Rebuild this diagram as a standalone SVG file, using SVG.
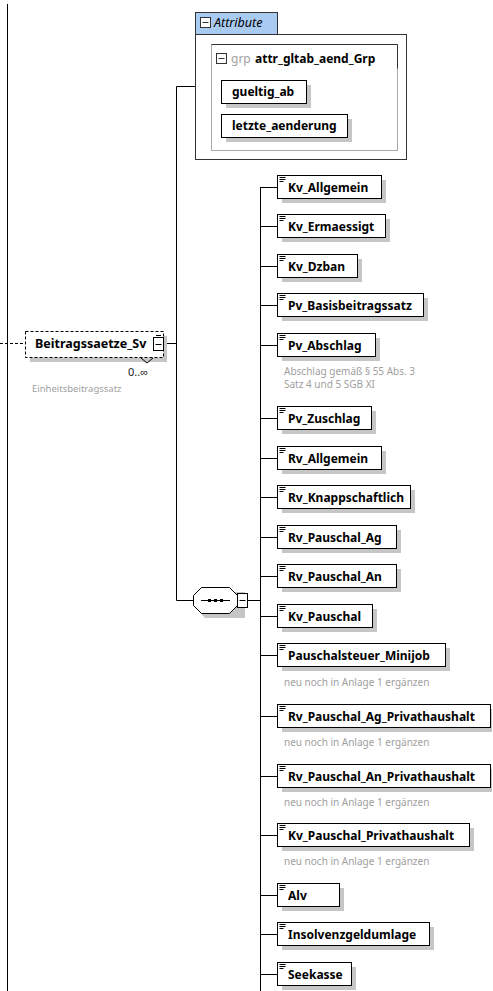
<svg xmlns="http://www.w3.org/2000/svg" width="493" height="991" viewBox="0 0 493 991">
<style>
.el{fill:#fff;stroke:#000;stroke-width:1}
.sh{fill:#c6c6c6}
.nm{font-family:"Noto Sans",sans-serif;font-weight:bold;font-size:12px;fill:#000}
.an{font-family:"Noto Sans",sans-serif;font-size:10px;fill:#a0a0a0}
.ln{stroke:#000;stroke-width:1;fill:none}
.ic{stroke:#000;stroke-width:1}
</style>
<defs>
<g id="doc"><path d="M0.5 0.5h6M0.5 2.5h6M0.5 4.5h4" stroke="#000" stroke-width="1"/></g>
</defs>
<rect width="493" height="991" fill="#fff"/>
<g id="connectors">
<line class="ln" x1="7.5" y1="4" x2="7.5" y2="991"/>
<line class="ln" x1="0" y1="343.5" x2="25" y2="343.5" stroke-dasharray="3,2"/>
<line class="ln" x1="164" y1="343.5" x2="177" y2="343.5"/>
<polyline class="ln" points="195,86.5 176.5,86.5 176.5,600.5 193,600.5"/>
<line class="ln" x1="248" y1="600.5" x2="260" y2="600.5"/>
<line class="ln" x1="260.5" y1="187" x2="260.5" y2="991"/>
<path class="ln" d="M260 187.5h17M260 226.5h17M260 266.5h17M260 305.5h17M260 345.5h17M260 418.5h17M260 458.5h17M260 497.5h17M260 537.5h17M260 576.5h17M260 616.5h17M260 655.5h17M260 716.5h17M260 776.5h17M260 835.5h17M260 895.5h17M260 934.5h17M260 974.5h17"/>
</g>
<g id="attributes">
<rect x="195.5" y="34.5" width="211" height="125" fill="#fff" stroke="#333"/>
<rect x="195.5" y="12.5" width="82" height="22" fill="#a9cbf2" stroke="#333"/>
<rect x="200.5" y="17.5" width="10" height="10" fill="#fff" stroke="#333"/>
<line x1="202.5" y1="22.5" x2="208.5" y2="22.5" stroke="#333"/>
<text x="214" y="27" font-family="Noto Sans,sans-serif" font-style="italic" font-size="12.5" fill="#000">Attribute</text>
<g id="grp">
<rect x="211.5" y="44.5" width="186" height="106" fill="#fff" stroke="#aaa"/>
<path d="M211.5 44.5h186v24" stroke="#333" fill="none"/>
<rect x="216.5" y="53.5" width="10" height="10" fill="#fff" stroke="#333"/>
<line x1="218.5" y1="58.5" x2="224.5" y2="58.5" stroke="#333"/>
<text x="231" y="63" font-family="Noto Sans,sans-serif" font-size="12" fill="#a0a0a0">grp</text>
<text x="255" y="63" class="nm">attr_gltab_aend_Grp</text>
</g>
<g id="gueltig_ab">
<rect class="sh" x="226" y="85" width="85" height="23"/>
<rect class="el" x="221.5" y="80.5" width="85" height="23"/>
<text x="232" y="96" class="nm">gueltig_ab</text>
</g>
<g id="letzte_aenderung">
<rect class="sh" x="226" y="119" width="126" height="23"/>
<rect class="el" x="221.5" y="114.5" width="126" height="23"/>
<text x="232" y="130" class="nm">letzte_aenderung</text>
</g>
</g>
<g id="Beitragssaetze_Sv">
<rect class="sh" x="30" y="336" width="137" height="26"/>
<rect x="25.5" y="331.5" width="138" height="26" fill="#fff" stroke="#000" stroke-dasharray="3,2"/>
<text x="35" y="348" class="nm" style="font-size:12.5px">Beitragssaetze_Sv</text>
<rect x="153.5" y="337.5" width="10" height="13" fill="#fff" stroke="#000"/>
<line x1="156" y1="335.5" x2="161" y2="335.5" stroke="#000"/>
<line x1="155.5" y1="344.5" x2="161.5" y2="344.5" stroke="#000"/>
<polyline points="141,358 147,363 153,358" fill="none" stroke="#000"/>
<text x="128" y="376" font-family="Noto Sans,sans-serif" font-size="11" fill="#222">0..∞</text>
<text x="32" y="392" font-family="Noto Sans,sans-serif" font-size="9.5" fill="#a0a0a0">Einheitsbeitragssatz</text>
</g>
<g id="sequence">
<polygon points="205,592 245,592 245,618 205,618 198,610 198,600" class="sh"/>
<polygon points="201.5,587.5 229.5,587.5 237.5,595.5 237.5,605.5 229.5,613.5 201.5,613.5 193.5,605.5 193.5,595.5" fill="#fff" stroke="#000"/>
<line x1="201" y1="600.5" x2="230" y2="600.5" stroke="#000"/>
<rect x="208" y="599" width="3" height="3" fill="#000"/>
<rect x="214" y="599" width="3" height="3" fill="#000"/>
<rect x="220" y="599" width="3" height="3" fill="#000"/>
<rect x="237.5" y="593.5" width="10" height="14" fill="#fff" stroke="#000"/>
<line x1="239.5" y1="600.5" x2="245.5" y2="600.5" stroke="#000"/>
</g>
<g id="Kv_Allgemein"><rect class="sh" x="282" y="180" width="104" height="23"/><rect class="el" x="277.5" y="175.5" width="104" height="23"/><use href="#doc" x="279" y="177"/><text x="288" y="192" class="nm">Kv_Allgemein</text></g>
<g id="Kv_Ermaessigt"><rect class="sh" x="282" y="219" width="108" height="23"/><rect class="el" x="277.5" y="214.5" width="108" height="23"/><use href="#doc" x="279" y="216"/><text x="288" y="231" class="nm">Kv_Ermaessigt</text></g>
<g id="Kv_Dzban"><rect class="sh" x="282" y="259" width="80" height="23"/><rect class="el" x="277.5" y="254.5" width="80" height="23"/><use href="#doc" x="279" y="256"/><text x="288" y="271" class="nm">Kv_Dzban</text></g>
<g id="Pv_Basisbeitragssatz"><rect class="sh" x="282" y="298" width="146" height="23"/><rect class="el" x="277.5" y="293.5" width="146" height="23"/><use href="#doc" x="279" y="295"/><text x="288" y="310" class="nm">Pv_Basisbeitragssatz</text></g>
<g id="Pv_Abschlag"><rect class="sh" x="282" y="338" width="98" height="23"/><rect class="el" x="277.5" y="333.5" width="98" height="23"/><use href="#doc" x="279" y="335"/><text x="288" y="350" class="nm">Pv_Abschlag</text>
<text x="284" y="375" class="an">Abschlag gemäß § 55 Abs. 3</text><text x="284" y="388" class="an">Satz 4 und 5 SGB XI</text></g>
<g id="Pv_Zuschlag"><rect class="sh" x="282" y="411" width="94" height="23"/><rect class="el" x="277.5" y="406.5" width="94" height="23"/><use href="#doc" x="279" y="408"/><text x="288" y="423" class="nm">Pv_Zuschlag</text></g>
<g id="Rv_Allgemein"><rect class="sh" x="282" y="451" width="104" height="23"/><rect class="el" x="277.5" y="446.5" width="104" height="23"/><use href="#doc" x="279" y="448"/><text x="288" y="463" class="nm">Rv_Allgemein</text></g>
<g id="Rv_Knappschaftlich"><rect class="sh" x="282" y="490" width="133" height="23"/><rect class="el" x="277.5" y="485.5" width="133" height="23"/><use href="#doc" x="279" y="487"/><text x="288" y="502" class="nm">Rv_Knappschaftlich</text></g>
<g id="Rv_Pauschal_Ag"><rect class="sh" x="282" y="530" width="119" height="23"/><rect class="el" x="277.5" y="525.5" width="119" height="23"/><use href="#doc" x="279" y="527"/><text x="288" y="542" class="nm">Rv_Pauschal_Ag</text></g>
<g id="Rv_Pauschal_An"><rect class="sh" x="282" y="569" width="119" height="23"/><rect class="el" x="277.5" y="564.5" width="119" height="23"/><use href="#doc" x="279" y="566"/><text x="288" y="581" class="nm">Rv_Pauschal_An</text></g>
<g id="Kv_Pauschal"><rect class="sh" x="282" y="609" width="95" height="23"/><rect class="el" x="277.5" y="604.5" width="95" height="23"/><use href="#doc" x="279" y="606"/><text x="288" y="621" class="nm">Kv_Pauschal</text></g>
<g id="Pauschalsteuer_Minijob"><rect class="sh" x="282" y="648" width="168" height="23"/><rect class="el" x="277.5" y="643.5" width="168" height="23"/><use href="#doc" x="279" y="645"/><text x="288" y="660" class="nm">Pauschalsteuer_Minijob</text>
<text x="284" y="686" class="an">neu noch in Anlage 1 ergänzen</text></g>
<g id="Rv_Pauschal_Ag_Privathaushalt"><rect class="sh" x="282" y="709" width="210" height="23"/><rect class="el" x="277.5" y="704.5" width="213" height="23"/><use href="#doc" x="279" y="706"/><text x="288" y="721" class="nm">Rv_Pauschal_Ag_Privathaushalt</text>
<text x="284" y="746" class="an">neu noch in Anlage 1 ergänzen</text></g>
<g id="Rv_Pauschal_An_Privathaushalt"><rect class="sh" x="282" y="769" width="210" height="23"/><rect class="el" x="277.5" y="764.5" width="213" height="23"/><use href="#doc" x="279" y="766"/><text x="288" y="781" class="nm">Rv_Pauschal_An_Privathaushalt</text>
<text x="284" y="806" class="an">neu noch in Anlage 1 ergänzen</text></g>
<g id="Kv_Pauschal_Privathaushalt"><rect class="sh" x="282" y="828" width="192" height="23"/><rect class="el" x="277.5" y="823.5" width="192" height="23"/><use href="#doc" x="279" y="825"/><text x="288" y="840" class="nm">Kv_Pauschal_Privathaushalt</text>
<text x="284" y="865" class="an">neu noch in Anlage 1 ergänzen</text></g>
<g id="Alv"><rect class="sh" x="282" y="888" width="62" height="23"/><rect class="el" x="277.5" y="883.5" width="62" height="23"/><use href="#doc" x="279" y="885"/><text x="288" y="900" class="nm">Alv</text></g>
<g id="Insolvenzgeldumlage"><rect class="sh" x="282" y="927" width="152" height="23"/><rect class="el" x="277.5" y="922.5" width="152" height="23"/><use href="#doc" x="279" y="924"/><text x="288" y="939" class="nm">Insolvenzgeldumlage</text></g>
<g id="Seekasse"><rect class="sh" x="282" y="967" width="74" height="23"/><rect class="el" x="277.5" y="962.5" width="74" height="23"/><use href="#doc" x="279" y="964"/><text x="288" y="979" class="nm">Seekasse</text></g>
</svg>
